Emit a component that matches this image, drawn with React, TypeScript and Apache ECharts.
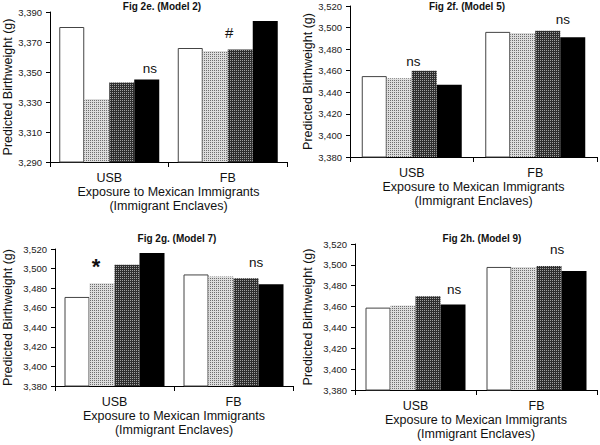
import React, { useEffect, useRef } from 'react';
import * as echarts from 'echarts';

// ---------- DATA ----------
const categories = ['USB', 'FB'];
const panelTitles = ['Fig 2e. (Model 2)', 'Fig 2f. (Model 5)', 'Fig 2g. (Model 7)', 'Fig 2h. (Model 9)'];
const yAxisTitle = 'Predicted Birthweight (g)';
const xAxisTitle = 'Exposure to Mexican Immigrants\n(Immigrant Enclaves)';

// each panel: 4 exposure levels (white, light dotted, dark dotted, black) x [USB, FB]
const fig2e = [
  [3380, 3366],
  [3332, 3364],
  [3343, 3365],
  [3345, 3384],
];
const fig2f = [
  [3455, 3496],
  [3453, 3495],
  [3460, 3497],
  [3447, 3491],
];
const fig2g = [
  [3471, 3494],
  [3485, 3492],
  [3504, 3490],
  [3516, 3484],
];
const fig2h = [
  [3459, 3498],
  [3461, 3498],
  [3470, 3499],
  [3462, 3494],
];
const panelData = [fig2e, fig2f, fig2g, fig2h];

const yTicks2e = [3290, 3310, 3330, 3350, 3370, 3390];
const yTicksOther = [3380, 3400, 3420, 3440, 3460, 3480, 3500, 3520];
const panelTicks = [yTicks2e, yTicksOther, yTicksOther, yTicksOther];

// significance marks: panel, series (exposure level), category, text
const annotations = [
  { panel: 0, series: 3, cat: 0, text: 'ns' },
  { panel: 0, series: 2, cat: 1, text: '#' },
  { panel: 1, series: 2, cat: 0, text: 'ns' },
  { panel: 1, series: 2, cat: 1, text: 'ns' },
  { panel: 2, series: 1, cat: 0, text: '*' },
  { panel: 2, series: 2, cat: 1, text: 'ns' },
  { panel: 3, series: 3, cat: 0, text: 'ns' },
  { panel: 3, series: 2, cat: 1, text: 'ns' },
];

// ---------- STYLE / LAYOUT ----------
const FONT = 'Liberation Sans, Arial, sans-serif';
const grids = [
  { left: 47, top: 12, width: 240, height: 150 },
  { left: 350, top: 6, width: 247, height: 151 },
  { left: 52, top: 249, width: 241, height: 137 },
  { left: 355, top: 244, width: 242, height: 146 },
];
const titlePos = [
  { x: 162, y: 1 },
  { x: 467, y: 1 },
  { x: 177, y: 233 },
  { x: 482, y: 233 },
];
const yNameGap = [36, 34, 41, 41];
// label offsets for annotations, same order as annotations
const annotStyle = [
  { dx: 3, dist: 4, size: 13.5, bold: false },
  { dx: -11, dist: 10, size: 15, bold: false },
  { dx: -11, dist: 2, size: 13.5, bold: false },
  { dx: 15, dist: 4, size: 13.5, bold: false },
  { dx: -6, dist: 6, size: 22, bold: true },
  { dx: 10, dist: 9, size: 13.5, bold: false },
  { dx: 1, dist: 8, size: 13.5, bold: false },
  { dx: 8, dist: 9, size: 13.5, bold: false },
];

function dotPatternURL(base: string, dot: string): string {
  const c = document.createElement('canvas');
  c.width = 2;
  c.height = 2;
  const ctx = c.getContext('2d')!;
  ctx.fillStyle = base;
  ctx.fillRect(0, 0, 2, 2);
  ctx.fillStyle = dot;
  ctx.fillRect(0, 0, 1, 1);
  return c.toDataURL();
}

const fmt = (v: number) => String(v).replace(/\B(?=(\d{3})+(?!\d))/g, ',');

export default function App() {
  const ref = useRef<HTMLDivElement>(null);

  useEffect(() => {
    document.body.style.margin = '0';
    if (!ref.current) return;
    const chart = echarts.init(ref.current, null, { renderer: 'svg' });

    const lightPat = { image: dotPatternURL('#dcdcdc', '#6e6e6e'), repeat: 'repeat', imageWidth: 2, imageHeight: 2 };
    const darkPat = { image: dotPatternURL('#2e2e2e', '#a0a0a0'), repeat: 'repeat', imageWidth: 2, imageHeight: 2 };
    const fills: any[] = ['#ffffff', lightPat, darkPat, '#000000'];

    const xAxis: any[] = [];
    const yAxis: any[] = [];
    const series: any[] = [];
    const title: any[] = [];

    panelData.forEach((pd, p) => {
      const ticks = panelTicks[p];
      title.push({
        text: panelTitles[p],
        left: titlePos[p].x,
        top: titlePos[p].y,
        textAlign: 'center',
        padding: 0,
        textStyle: { fontFamily: FONT, fontSize: 10, fontWeight: 'bold', color: '#111' },
      });
      xAxis.push({
        type: 'category',
        gridIndex: p,
        data: categories,
        axisLine: { lineStyle: { color: '#000', width: 1 } },
        axisTick: { show: true, length: 5, lineStyle: { color: '#000' } },
        axisLabel: { fontFamily: FONT, fontSize: 12.5, color: '#111', margin: 9 },
        name: xAxisTitle,
        nameLocation: 'middle',
        nameGap: 21,
        nameTextStyle: { fontFamily: FONT, fontSize: 12.5, color: '#111', lineHeight: 14, verticalAlign: 'top' },
      });
      yAxis.push({
        type: 'value',
        gridIndex: p,
        min: ticks[0],
        max: ticks[ticks.length - 1],
        interval: 20,
        splitLine: { show: false },
        axisLine: { show: true, lineStyle: { color: '#000', width: 1 } },
        axisTick: { show: true, length: 4, lineStyle: { color: '#000' }, customValues: ticks },
        axisLabel: {
          fontFamily: FONT,
          fontSize: 9.5,
          color: '#222',
          margin: 8,
          customValues: ticks,
          formatter: (v: number) => fmt(v),
        },
        name: yAxisTitle,
        nameLocation: 'middle',
        nameGap: yNameGap[p],
        nameTextStyle: { fontFamily: FONT, fontSize: 12.5, color: '#111' },
      });
      pd.forEach((vals, s) => {
        series.push({
          type: 'bar',
          xAxisIndex: p,
          yAxisIndex: p,
          barWidth: 25,
          barGap: '0%',
          itemStyle: {
            color: fills[s],
            borderColor: s === 0 ? '#444' : 'transparent',
            borderWidth: s === 0 ? 1 : 0,
          },
          data: vals.map((v, c) => {
            const ai = annotations.findIndex((a) => a.panel === p && a.series === s && a.cat === c);
            if (ai < 0) return v;
            const st = annotStyle[ai];
            return {
              value: v,
              label: {
                show: true,
                position: 'top',
                distance: st.dist,
                offset: [st.dx, 0],
                formatter: annotations[ai].text,
                fontFamily: FONT,
                fontSize: st.size,
                fontWeight: st.bold ? 'bold' : 'normal',
                color: '#111',
              },
            };
          }),
        });
      });
    });

    chart.setOption({
      animation: false,
      backgroundColor: '#ffffff',
      title,
      grid: grids,
      xAxis,
      yAxis,
      series,
    });
    return () => chart.dispose();
  }, []);

  return <div ref={ref} style={{ position: 'absolute', left: 0, top: 0, width: 600, height: 445 }} />;
}
